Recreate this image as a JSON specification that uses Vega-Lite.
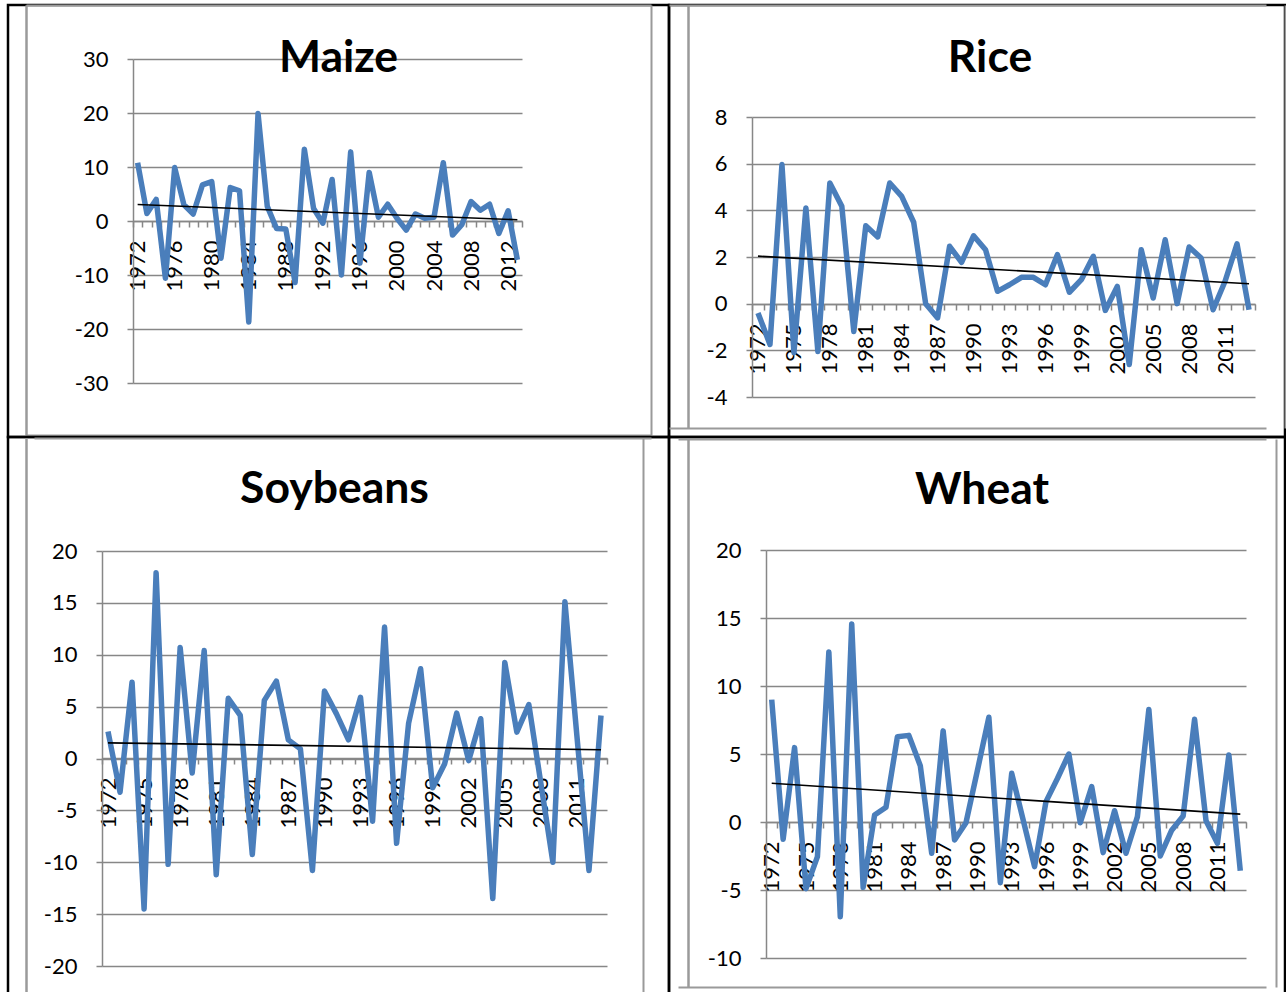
{
  "$schema": "https://vega.github.io/schema/vega-lite/v6.json",
  "padding": {"left": -5, "top": 1, "right": 0, "bottom": -4},
  "background": "white",
  "columns": 2,
  "align": "each",
  "bounds": "flush",
  "spacing": 0,
  "config": {
    "concat": {"spacing": 0},
    "view": {"stroke": "black", "strokeWidth": 2.5},
    "font": "Lato",
    "axis": {
      "title": null,
      "domainColor": "#878787",
      "domainWidth": 1.5,
      "tickColor": "#878787",
      "tickWidth": 1.5,
      "tickSize": 6,
      "gridColor": "#878787",
      "gridWidth": 1.5,
      "labelFont": "Lato",
      "labelFontSize": 22,
      "labelColor": "black"
    },
    "axisX": {"grid": false, "labelAngle": 270, "labelPadding": 13, "tickBand": "extent"},
    "axisY": {"grid": true, "labelPadding": 19, "labelExpr": "'' + datum.value"},
    "title": {"font": "Lato", "fontSize": 44.5, "fontWeight": "bold", "color": "black", "anchor": "middle", "frame": "group", "baseline": "alphabetic"}
  },
  "datasets": {
    "crops": [
      {"year": 1972, "maize": 10.8, "rice": -0.4, "soybeans": 2.6, "wheat": 9.0},
      {"year": 1973, "maize": 1.4, "rice": -1.75, "soybeans": -3.25, "wheat": -1.27},
      {"year": 1974, "maize": 4.0, "rice": 5.96, "soybeans": 7.36, "wheat": 5.47},
      {"year": 1975, "maize": -10.6, "rice": -2.1, "soybeans": -14.5, "wheat": -4.9},
      {"year": 1976, "maize": 9.9, "rice": 4.1, "soybeans": 17.9, "wheat": -2.55},
      {"year": 1977, "maize": 3.0, "rice": -2.05, "soybeans": -10.2, "wheat": 12.5},
      {"year": 1978, "maize": 1.3, "rice": 5.17, "soybeans": 10.7, "wheat": -6.96},
      {"year": 1979, "maize": 6.7, "rice": 4.17, "soybeans": -1.4, "wheat": 14.56},
      {"year": 1980, "maize": 7.3, "rice": -1.19, "soybeans": 10.4, "wheat": -4.8},
      {"year": 1981, "maize": -6.9, "rice": 3.34, "soybeans": -11.2, "wheat": 0.51},
      {"year": 1982, "maize": 6.2, "rice": 2.86, "soybeans": 5.8, "wheat": 1.08},
      {"year": 1983, "maize": 5.6, "rice": 5.17, "soybeans": 4.15, "wheat": 6.27},
      {"year": 1984, "maize": -18.7, "rice": 4.6, "soybeans": -9.26, "wheat": 6.37},
      {"year": 1985, "maize": 19.9, "rice": 3.49, "soybeans": 5.6, "wheat": 4.14},
      {"year": 1986, "maize": 2.7, "rice": 0.0, "soybeans": 7.46, "wheat": -2.3},
      {"year": 1987, "maize": -1.4, "rice": -0.61, "soybeans": 1.8, "wheat": 6.7},
      {"year": 1988, "maize": -1.5, "rice": 2.46, "soybeans": 0.93, "wheat": -1.32},
      {"year": 1989, "maize": -11.4, "rice": 1.77, "soybeans": -10.8, "wheat": -0.05},
      {"year": 1990, "maize": 13.3, "rice": 2.91, "soybeans": 6.5, "wheat": 3.8},
      {"year": 1991, "maize": 2.3, "rice": 2.31, "soybeans": 4.3, "wheat": 7.7},
      {"year": 1992, "maize": -0.4, "rice": 0.53, "soybeans": 1.8, "wheat": -4.46},
      {"year": 1993, "maize": 7.7, "rice": 0.81, "soybeans": 5.9, "wheat": 3.58},
      {"year": 1994, "maize": -10.0, "rice": 1.13, "soybeans": -6.05, "wheat": 0.15},
      {"year": 1995, "maize": 12.8, "rice": 1.13, "soybeans": 12.67, "wheat": -3.28},
      {"year": 1996, "maize": -7.8, "rice": 0.81, "soybeans": -8.17, "wheat": 1.5},
      {"year": 1997, "maize": 9.0, "rice": 2.1, "soybeans": 3.4, "wheat": 3.2},
      {"year": 1998, "maize": 0.7, "rice": 0.49, "soybeans": 8.65, "wheat": 5.0},
      {"year": 1999, "maize": 3.1, "rice": 1.03, "soybeans": -2.83, "wheat": -0.05},
      {"year": 2000, "maize": 0.5, "rice": 2.03, "soybeans": -0.5, "wheat": 2.6},
      {"year": 2001, "maize": -1.7, "rice": -0.29, "soybeans": 4.37, "wheat": -2.25},
      {"year": 2002, "maize": 1.3, "rice": 0.74, "soybeans": -0.2, "wheat": 0.83},
      {"year": 2003, "maize": 0.5, "rice": -2.61, "soybeans": 3.83, "wheat": -2.3},
      {"year": 2004, "maize": 0.7, "rice": 2.31, "soybeans": -13.5, "wheat": 0.4},
      {"year": 2005, "maize": 10.8, "rice": 0.24, "soybeans": 9.26, "wheat": 8.28},
      {"year": 2006, "maize": -2.6, "rice": 2.74, "soybeans": 2.54, "wheat": -2.5},
      {"year": 2007, "maize": -0.7, "rice": 0.0, "soybeans": 5.2, "wheat": -0.6},
      {"year": 2008, "maize": 3.6, "rice": 2.43, "soybeans": -2.4, "wheat": 0.44},
      {"year": 2009, "maize": 2.0, "rice": 1.96, "soybeans": -10.0, "wheat": 7.55},
      {"year": 2010, "maize": 3.1, "rice": -0.26, "soybeans": 15.1, "wheat": 0.1},
      {"year": 2011, "maize": -2.3, "rice": 0.96, "soybeans": 2.15, "wheat": -1.57},
      {"year": 2012, "maize": 1.9, "rice": 2.56, "soybeans": -10.8, "wheat": 4.93},
      {"year": 2013, "maize": -7.2, "rice": -0.26, "soybeans": 4.15, "wheat": -3.58}
    ]
  },
  "concat": [
    {
      "width": 661, "height": 432,
      "data": {"name": "crops"},
      "title": {"text": "Maize", "offset": -79, "dx": 0},
      "resolve": {"scale": {"x": "independent", "y": "independent"}, "axis": {"x": "independent", "y": "independent"}},
      "layer": [
        {
          "layer": [
            {
              "mark": {"type": "line", "color": "#4A7EBB", "strokeWidth": 5.5, "strokeJoin": "round"},
              "encoding": {
                "x": {"field": "year", "type": "ordinal",
                  "scale": {"type": "band", "paddingInner": 0, "paddingOuter": 0, "range": [125, 514]},
                  "axis": {"orient": "bottom", "offset": -216, "labelExpr": "(datum.value - 1972) % 4 === 0 ? datum.label : ''"}},
                "y": {"field": "maize", "type": "quantitative",
                  "scale": {"domain": [-30, 30], "range": [378, 54], "nice": false, "zero": false},
                  "axis": {"orient": "left", "offset": -125, "values": [-30, -20, -10, 0, 10, 20, 30]}}
              }
            },
            {
              "transform": [{"regression": "maize", "on": "year"}],
              "mark": {"type": "line", "color": "black", "strokeWidth": 1.6},
              "encoding": {
                "x": {"field": "year", "type": "ordinal"},
                "y": {"field": "maize", "type": "quantitative"}
              }
            }
          ]
        },
        {
          "mark": {"type": "point", "opacity": 0},
          "encoding": {
            "x": {"field": "year", "type": "quantitative",
              "scale": {"domain": [0, 1], "range": [18, 643], "clamp": true, "zero": false, "nice": false},
              "axis": {"orient": "top", "values": [0, 1], "labels": false, "ticks": false, "domain": false, "grid": true, "gridColor": "#9a9a9a", "gridWidth": 2}},
            "y": {"field": "maize", "type": "quantitative",
              "scale": {"domain": [0, 1], "range": [430, 0], "clamp": true, "zero": false, "nice": false},
              "axis": {"orient": "right", "values": [0, 1], "labels": false, "ticks": false, "domain": false, "grid": true, "gridColor": "#9a9a9a", "gridWidth": 2}}
          }
        }
      ]
    },
    {
      "width": 616, "height": 432,
      "data": {"name": "crops"},
      "title": {"text": "Rice", "offset": -79, "dx": 13},
      "resolve": {"scale": {"x": "independent", "y": "independent"}, "axis": {"x": "independent", "y": "independent"}},
      "layer": [
        {
          "layer": [
            {
              "mark": {"type": "line", "color": "#4A7EBB", "strokeWidth": 5.5, "strokeJoin": "round"},
              "encoding": {
                "x": {"field": "year", "type": "ordinal",
                  "scale": {"type": "band", "paddingInner": 0, "paddingOuter": 0, "range": [83, 586]},
                  "axis": {"orient": "bottom", "offset": -133, "labelExpr": "(datum.value - 1972) % 3 === 0 ? datum.label : ''"}},
                "y": {"field": "rice", "type": "quantitative",
                  "scale": {"domain": [-4, 8], "range": [392, 112], "nice": false, "zero": false},
                  "axis": {"orient": "left", "offset": -83, "values": [-4, -2, 0, 2, 4, 6, 8]}}
              }
            },
            {
              "transform": [{"regression": "rice", "on": "year"}],
              "mark": {"type": "line", "color": "black", "strokeWidth": 1.6},
              "encoding": {
                "x": {"field": "year", "type": "ordinal"},
                "y": {"field": "rice", "type": "quantitative"}
              }
            }
          ]
        },
        {
          "mark": {"type": "point", "opacity": 0},
          "encoding": {
            "x": {"field": "year", "type": "quantitative",
              "scale": {"domain": [0, 1], "range": [19, 616], "clamp": true, "zero": false, "nice": false},
              "axis": {"orient": "top", "values": [0, 1], "labels": false, "ticks": false, "domain": false, "grid": true, "gridColor": "#9a9a9a", "gridWidth": 2}},
            "y": {"field": "rice", "type": "quantitative",
              "scale": {"domain": [0, 1], "range": [423, 0], "clamp": true, "zero": false, "nice": false},
              "axis": {"orient": "right", "values": [0, 1], "labels": false, "ticks": false, "domain": false, "grid": true, "gridColor": "#9a9a9a", "gridWidth": 2}}
          }
        }
      ]
    },
    {
      "width": 661, "height": 560,
      "data": {"name": "crops"},
      "title": {"text": "Soybeans", "offset": -77.5, "dx": -4},
      "resolve": {"scale": {"x": "independent", "y": "independent"}, "axis": {"x": "independent", "y": "independent"}},
      "layer": [
        {
          "layer": [
            {
              "mark": {"type": "line", "color": "#4A7EBB", "strokeWidth": 5.5, "strokeJoin": "round"},
              "encoding": {
                "x": {"field": "year", "type": "ordinal",
                  "scale": {"type": "band", "paddingInner": 0, "paddingOuter": 0, "range": [94, 599]},
                  "axis": {"orient": "bottom", "offset": -239, "labelExpr": "(datum.value - 1972) % 3 === 0 ? datum.label : ''"}},
                "y": {"field": "soybeans", "type": "quantitative",
                  "scale": {"domain": [-20, 20], "range": [529, 114], "nice": false, "zero": false},
                  "axis": {"orient": "left", "offset": -94, "values": [-20, -15, -10, -5, 0, 5, 10, 15, 20]}}
              }
            },
            {
              "transform": [{"regression": "soybeans", "on": "year"}],
              "mark": {"type": "line", "color": "black", "strokeWidth": 1.6},
              "encoding": {
                "x": {"field": "year", "type": "ordinal"},
                "y": {"field": "soybeans", "type": "quantitative"}
              }
            }
          ]
        },
        {
          "mark": {"type": "point", "opacity": 0},
          "encoding": {
            "x": {"field": "year", "type": "quantitative",
              "scale": {"domain": [0, 1], "range": [18, 635], "clamp": true, "zero": false, "nice": false},
              "axis": {"orient": "top", "values": [0, 1], "labels": false, "ticks": false, "domain": false, "grid": true, "gridColor": "#9a9a9a", "gridWidth": 2}},
            "y": {"field": "soybeans", "type": "quantitative",
              "scale": {"domain": [0, 1], "range": [559, 1], "clamp": true, "zero": false, "nice": false},
              "axis": {"orient": "right", "values": [0, 1], "labels": false, "ticks": false, "domain": false, "grid": true, "gridColor": "#9a9a9a", "gridWidth": 2}}
          }
        }
      ]
    },
    {
      "width": 616, "height": 560,
      "data": {"name": "crops"},
      "title": {"text": "Wheat", "offset": -77.5, "dx": 5},
      "resolve": {"scale": {"x": "independent", "y": "independent"}, "axis": {"x": "independent", "y": "independent"}},
      "layer": [
        {
          "layer": [
            {
              "mark": {"type": "line", "color": "#4A7EBB", "strokeWidth": 5.5, "strokeJoin": "round"},
              "encoding": {
                "x": {"field": "year", "type": "ordinal",
                  "scale": {"type": "band", "paddingInner": 0, "paddingOuter": 0, "range": [97, 577]},
                  "axis": {"orient": "bottom", "offset": -175, "labelExpr": "(datum.value - 1972) % 3 === 0 ? datum.label : ''"}},
                "y": {"field": "wheat", "type": "quantitative",
                  "scale": {"domain": [-10, 20], "range": [521, 113], "nice": false, "zero": false},
                  "axis": {"orient": "left", "offset": -97, "values": [-10, -5, 0, 5, 10, 15, 20]}}
              }
            },
            {
              "transform": [{"regression": "wheat", "on": "year"}],
              "mark": {"type": "line", "color": "black", "strokeWidth": 1.6},
              "encoding": {
                "x": {"field": "year", "type": "ordinal"},
                "y": {"field": "wheat", "type": "quantitative"}
              }
            }
          ]
        },
        {
          "mark": {"type": "point", "opacity": 0},
          "encoding": {
            "x": {"field": "year", "type": "quantitative",
              "scale": {"domain": [0, 1], "range": [19, 607], "clamp": true, "zero": false, "nice": false},
              "axis": {"orient": "top", "values": [0, 1], "labels": false, "ticks": false, "domain": false, "grid": true, "gridColor": "#9a9a9a", "gridWidth": 2}},
            "y": {"field": "wheat", "type": "quantitative",
              "scale": {"domain": [0, 1], "range": [550, 2], "clamp": true, "zero": false, "nice": false},
              "axis": {"orient": "right", "values": [0, 1], "labels": false, "ticks": false, "domain": false, "grid": true, "gridColor": "#9a9a9a", "gridWidth": 2}}
          }
        }
      ]
    }
  ]
}
